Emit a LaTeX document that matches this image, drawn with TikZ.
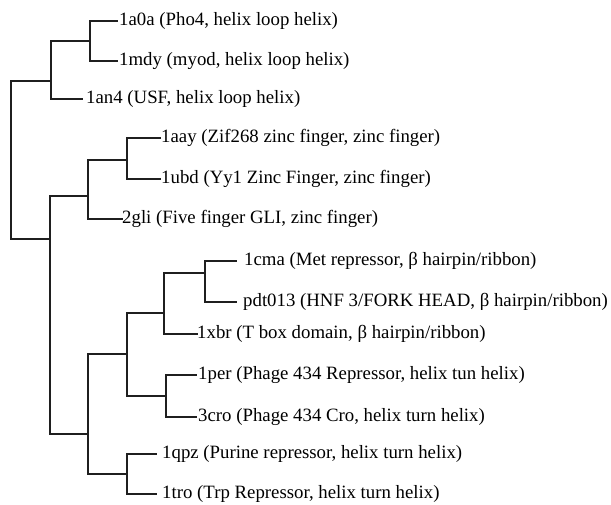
\documentclass[tikz,border=0pt]{standalone}
\usepackage{fontspec}
\setmainfont{Liberation Serif}
\begin{document}
\begin{tikzpicture}[x=1pt,y=-1pt,
  br/.style={line width=1.4pt, draw=black!88},
  lab/.style={anchor=west, inner sep=0pt, font=\fontsize{18.8}{20}\selectfont}]
\useasboundingbox (0,0) rectangle (611,504);
% internal nodes
\coordinate (R)  at (11,160);
\coordinate (A)  at (51,81);
\coordinate (A1) at (90,41);
\coordinate (B)  at (50,239);
\coordinate (Z)  at (88,196);
\coordinate (Z1) at (127,160);
\coordinate (C)  at (88,434);
\coordinate (D)  at (127,354);
\coordinate (E)  at (164,313);
\coordinate (F)  at (205,273);
\coordinate (G)  at (166,396);
\coordinate (H)  at (127,474);
% leaf ends
\coordinate (e1) at (118,21);
\coordinate (e2) at (118,61);
\coordinate (e3) at (83,99);
\coordinate (e4) at (161,138);
\coordinate (e5) at (161,179);
\coordinate (e6) at (123,219);
\coordinate (e7) at (237,261);
\coordinate (e8) at (237,302);
\coordinate (e9) at (198,334);
\coordinate (e10) at (197,375);
\coordinate (e11) at (197,417);
\coordinate (e12) at (157,454);
\coordinate (e13) at (157,494);
% labels
\node[lab] (l1) at (119,21) {1a0a (Pho4, helix loop helix)};
\node[lab] (l2) at (119,61) {1mdy (myod, helix loop helix)};
\node[lab] (l3) at (86,99) {1an4 (USF, helix loop helix)};
\node[lab] (l4) at (161,138) {1aay (Zif268 zinc finger, zinc finger)};
\node[lab] (l5) at (161,179) {1ubd (Yy1 Zinc Finger, zinc finger)};
\node[lab] (l6) at (122,219) {2gli (Five finger GLI, zinc finger)};
\node[lab] (l7) at (244,261) {1cma (Met repressor, β hairpin/ribbon)};
\node[lab] (l8) at (243,302) {pdt013 (HNF 3/FORK HEAD, β hairpin/ribbon)};
\node[lab] (l9) at (197,334) {1xbr (T box domain, β hairpin/ribbon)};
\node[lab] (l10) at (198,375) {1per (Phage 434 Repressor, helix tun helix)};
\node[lab] (l11) at (198,417) {3cro (Phage 434 Cro, helix turn helix)};
\node[lab] (l12) at (162,454) {1qpz (Purine repressor, helix turn helix)};
\node[lab] (l13) at (162,494) {1tro (Trp Repressor, helix turn helix)};
% branches
\draw[br] (R) |- (A);  \draw[br] (R) |- (B);
\draw[br] (A) |- (A1); \draw[br] (A) |- (e3);
\draw[br] (A1) |- (e1); \draw[br] (A1) |- (e2);
\draw[br] (B) |- (Z);  \draw[br] (B) |- (C);
\draw[br] (Z) |- (Z1); \draw[br] (Z) |- (e6);
\draw[br] (Z1) |- (e4); \draw[br] (Z1) |- (e5);
\draw[br] (C) |- (D);  \draw[br] (C) |- (H);
\draw[br] (D) |- (E);  \draw[br] (D) |- (G);
\draw[br] (E) |- (F);  \draw[br] (E) |- (e9);
\draw[br] (F) |- (e7); \draw[br] (F) |- (e8);
\draw[br] (G) |- (e10); \draw[br] (G) |- (e11);
\draw[br] (H) |- (e12); \draw[br] (H) |- (e13);
\end{tikzpicture}
\end{document}
